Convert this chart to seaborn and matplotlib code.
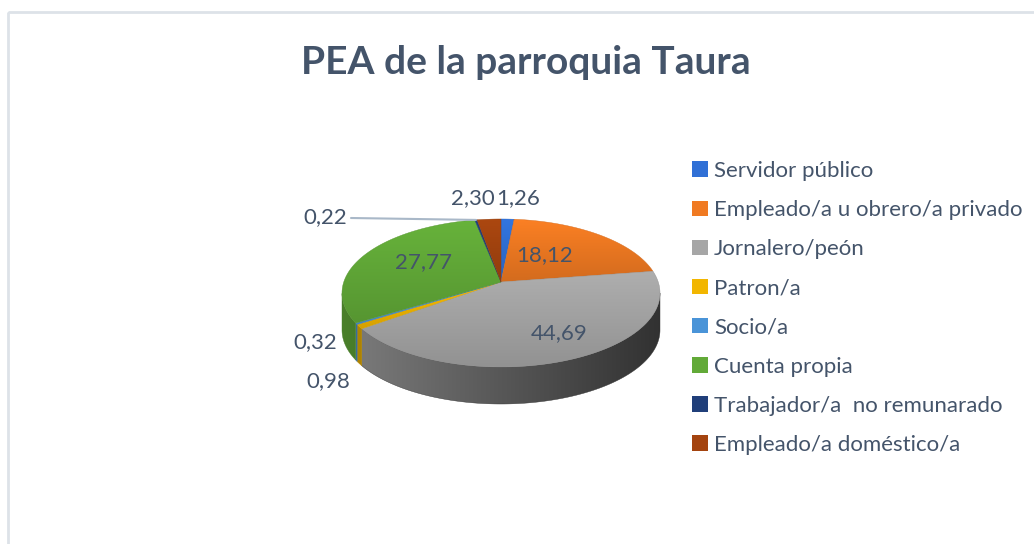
import numpy as np
import matplotlib
matplotlib.use("Agg")
import matplotlib.pyplot as plt
import seaborn as sns
from matplotlib.patches import Polygon, Rectangle, Patch
from matplotlib.colors import to_rgb

# ---- data ----
categories = ["Servidor público", "Empleado/a u obrero/a privado", "Jornalero/peón",
              "Patron/a", "Socio/a", "Cuenta propia", "Trabajador/a  no remunarado",
              "Empleado/a doméstico/a"]
values = [1.26, 18.12, 44.69, 0.98, 0.32, 27.77, 0.22, 2.30]
value_labels = ["1,26", "18,12", "44,69", "0,98", "0,32", "27,77", "0,22", "2,30"]
colors = ["#3070D6", "#F07A22", "#A6A6A6", "#F2B600", "#4A94D8", "#62AA38", "#203F7A", "#A4440F"]
title = "PEA de la parroquia Taura"

sns.set_theme(style="white")
plt.rcParams['font.family'] = ['Lato', 'DejaVu Sans']

W, H = 1034, 544
fig = plt.figure(figsize=(W / 100, H / 100), dpi=100)
ax = fig.add_axes([0, 0, 1, 1])
ax.set_xlim(0, W)
ax.set_ylim(H, 0)
ax.axis("off")

TXT = "#44546A"

# border
ax.add_patch(Rectangle((8, 12), W + 20, H + 20, fill=False, ec="#DDE2E8", lw=2, zorder=0))

# pie geometry (pixel layout)
cx, cy = 501, 293
a, b = 159, 74
apex = (501, 282)
depth = 37


def shade(c, f):
    r, g, bb = to_rgb(c)
    return (min(r * f, 1), min(g * f, 1), min(bb * f, 1))


def grad_fill(poly_pts, c_start, c_end, horizontal, z):
    poly = Polygon(poly_pts, closed=True, fc="none", ec="none", zorder=z)
    ax.add_patch(poly)
    xs = poly_pts[:, 0]
    ys = poly_pts[:, 1]
    x0, x1 = xs.min(), xs.max()
    y0, y1 = ys.min(), ys.max()
    n = 64
    t = np.linspace(0, 1, n)
    c0 = np.array(to_rgb(c_start))
    c1 = np.array(to_rgb(c_end))
    grad = c0[None, :] * (1 - t[:, None]) + c1[None, :] * t[:, None]
    if horizontal:
        img = grad[None, :, :]
    else:
        img = grad[:, None, :]
    im = ax.imshow(img, extent=(x0, x1 + 0.5, y1 + 0.5, y0), origin="upper",
                   interpolation="bilinear", zorder=z, aspect="auto")
    im.set_clip_path(poly)
    ax.add_patch(Polygon(poly_pts, closed=True, fc="none", ec=c_end, lw=0.3, zorder=z))


total = sum(values)
angles = [90.0]
for v in values:
    angles.append(angles[-1] - 360.0 * v / total)


def ell(t):
    r = np.deg2rad(t)
    return cx + a * np.cos(r), cy - b * np.sin(r)

# side walls (front half)
for i, v in enumerate(values):
    s, e = angles[i], angles[i + 1]
    ts = np.linspace(e, s, max(4, int((s - e) * 2)))
    ts_mod = np.mod(ts, 360)
    mask = (ts_mod >= 180) & (ts_mod <= 360)
    if not mask.any():
        continue
    seg = ts[mask]
    xs, ys = ell(seg)
    top = np.column_stack([xs, ys])
    bot = np.column_stack([xs, ys + depth])[::-1]
    pts = np.vstack([top, bot])
    fl = 0.75 - 0.45 * (xs.min() - (cx - a)) / (2 * a)
    fr = 0.75 - 0.45 * (xs.max() - (cx - a)) / (2 * a)
    grad_fill(pts, shade(colors[i], fl), shade(colors[i], fr), True, 2)

# top faces
for i, v in enumerate(values):
    s, e = angles[i], angles[i + 1]
    ts = np.linspace(s, e, max(3, int((s - e) * 2)))
    xs, ys = ell(ts)
    pts = np.vstack([[apex], np.column_stack([xs, ys])])
    grad_fill(pts, shade(colors[i], 1.05), shade(colors[i], 0.88), False, 3)

# data labels (layout positions)
label_pos = [(518, 198), (545, 255), (559, 333), (328, 381), (315, 342), (423, 262), (325, 217), (473, 198)]
for lab, (x, y) in zip(value_labels, label_pos):
    ax.text(x, y, lab, color=TXT, fontsize=16, ha="center", va="center", zorder=5)

# leader line for 0.22
mid = (angles[6] + angles[7]) / 2
lx, ly = ell(mid)
ax.plot([351, lx], [218, ly], color="#A9B8C8", lw=1.5, zorder=4)

# title
ax.text(526, 62, title, color=TXT, fontsize=28, fontweight="bold", ha="center", va="center")

# legend
handles = [Patch(fc=c, ec="none") for c in colors]
leg = ax.legend(handles, categories, loc="upper left", bbox_to_anchor=(692 / W, 1 - 161 / H),
                frameon=False, fontsize=16, handlelength=0.7, handleheight=0.7,
                handletextpad=0.3, labelspacing=0.86, borderaxespad=0, borderpad=0)
for t in leg.get_texts():
    t.set_color(TXT)

fig.savefig("out.png", dpi=100)
